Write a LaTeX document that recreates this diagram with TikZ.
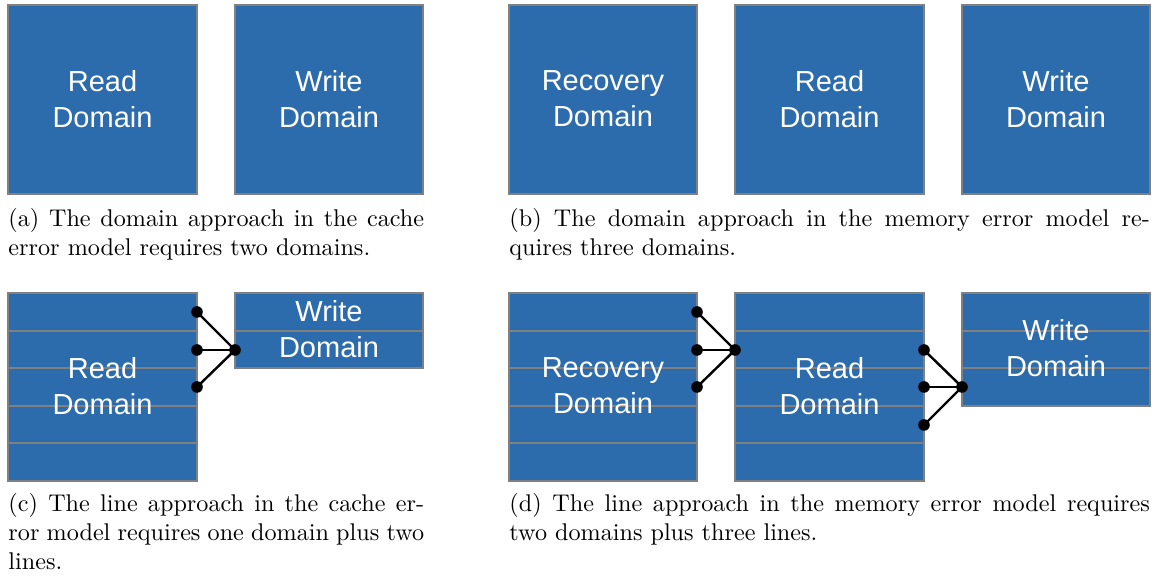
\documentclass[tikz,border=0pt]{standalone}
\usepackage{fontspec}
\newfontfamily\boxfont{Liberation Sans}
\usepackage{xcolor}

\begin{document}
\begin{tikzpicture}[x=0.4138pt,y=-0.4138pt]

\definecolor{domblue}{RGB}{44,107,172}
\definecolor{rulegray}{RGB}{128,128,128}

\tikzset{
  dombox/.style={fill=domblue,draw=rulegray,line width=0.5pt},
  rowline/.style={draw=rulegray,line width=0.5pt},
  dname/.style={text=white,align=center,font=\boxfont\fontsize{12}{15}\selectfont},
  capt/.style={anchor=north west,inner sep=0pt,align=justify,font=\fontsize{10}{12}\selectfont},
  wire/.style={line width=1pt}
}

\useasboundingbox (0,0) rectangle (1156,578);

% (a) domains, cache error model
\draw [dombox] (8,5) rectangle (197,194);
\draw [dombox] (235,5) rectangle (423,194);
\node [dname] (aread) at (102.5,99) {Read\\Domain};
\node [dname] (awrite) at (329,99) {Write\\Domain};

% (b) domains, memory error model
\draw [dombox] (509,5) rectangle (697,194);
\draw [dombox] (735,5) rectangle (924,194);
\draw [dombox] (962,5) rectangle (1150,194);
\node [dname] (brec) at (603,99) {Recovery\\Domain};
\node [dname] (bread) at (829.5,99) {Read\\Domain};
\node [dname] (bwrite) at (1056,99) {Write\\Domain};

% (c) lines, cache error model
\draw [dombox] (8,293) rectangle (197,481);
\draw [dombox] (235,293) rectangle (423,368);
\foreach \y in {331,368,406,443}
  \draw [rowline] (8,\y) -- (197,\y);
\draw [rowline] (235,331) -- (423,331);
\node [dname] (cread) at (102.5,386) {Read\\Domain};
\node [dname] (cwrite) at (329,329.5) {Write\\Domain};

\coordinate (C1) at (197,312);
\coordinate (C2) at (197,350);
\coordinate (C3) at (197,387);
\coordinate (CH) at (235,350);
\draw [wire] (C1) -- (CH);
\draw [wire] (C2) -- (CH);
\draw [wire] (C3) -- (CH);
\foreach \p in {C1,C2,C3,CH}
  \fill (\p) circle [radius=2.4pt];

% (d) lines, memory error model
\draw [dombox] (509,293) rectangle (697,481);
\draw [dombox] (735,293) rectangle (924,481);
\draw [dombox] (962,293) rectangle (1150,406);
\foreach \y in {331,368,406,443} {
  \draw [rowline] (509,\y) -- (697,\y);
  \draw [rowline] (735,\y) -- (924,\y);
}
\draw [rowline] (962,331) -- (1150,331);
\draw [rowline] (962,368) -- (1150,368);
\node [dname] (drec) at (603,386) {Recovery\\Domain};
\node [dname] (dread) at (829.5,386) {Read\\Domain};
\node [dname] (dwrite) at (1056,348.5) {Write\\Domain};

\coordinate (D1) at (697,312);
\coordinate (D2) at (697,350);
\coordinate (D3) at (697,387);
\coordinate (DH) at (735,350);
\coordinate (E1) at (924,350);
\coordinate (E2) at (924,387);
\coordinate (E3) at (924,425);
\coordinate (EH) at (962,387);
\draw [wire] (D1) -- (DH);
\draw [wire] (D2) -- (DH);
\draw [wire] (D3) -- (DH);
\draw [wire] (E1) -- (EH);
\draw [wire] (E2) -- (EH);
\draw [wire] (E3) -- (EH);
\foreach \p in {D1,D2,D3,DH,E1,E2,E3,EH}
  \fill (\p) circle [radius=2.4pt];

% captions
\node [capt,text width=172pt] (capa) at (8,208)
  {(a) The domain approach in the cache\linebreak error model requires two domains.};
\node [capt,text width=265pt] (capb) at (509,208)
  {(b) The domain approach in the memory error model re-\linebreak quires three domains.};
\node [capt,text width=172pt] (capc) at (8,493)
  {(c) The line approach in the cache er-\linebreak ror model requires one domain plus two\linebreak lines.};
\node [capt,text width=265pt] (capd) at (509,493)
  {(d) The line approach in the memory error model requires\linebreak two domains plus three lines.};

\end{tikzpicture}
\end{document}
